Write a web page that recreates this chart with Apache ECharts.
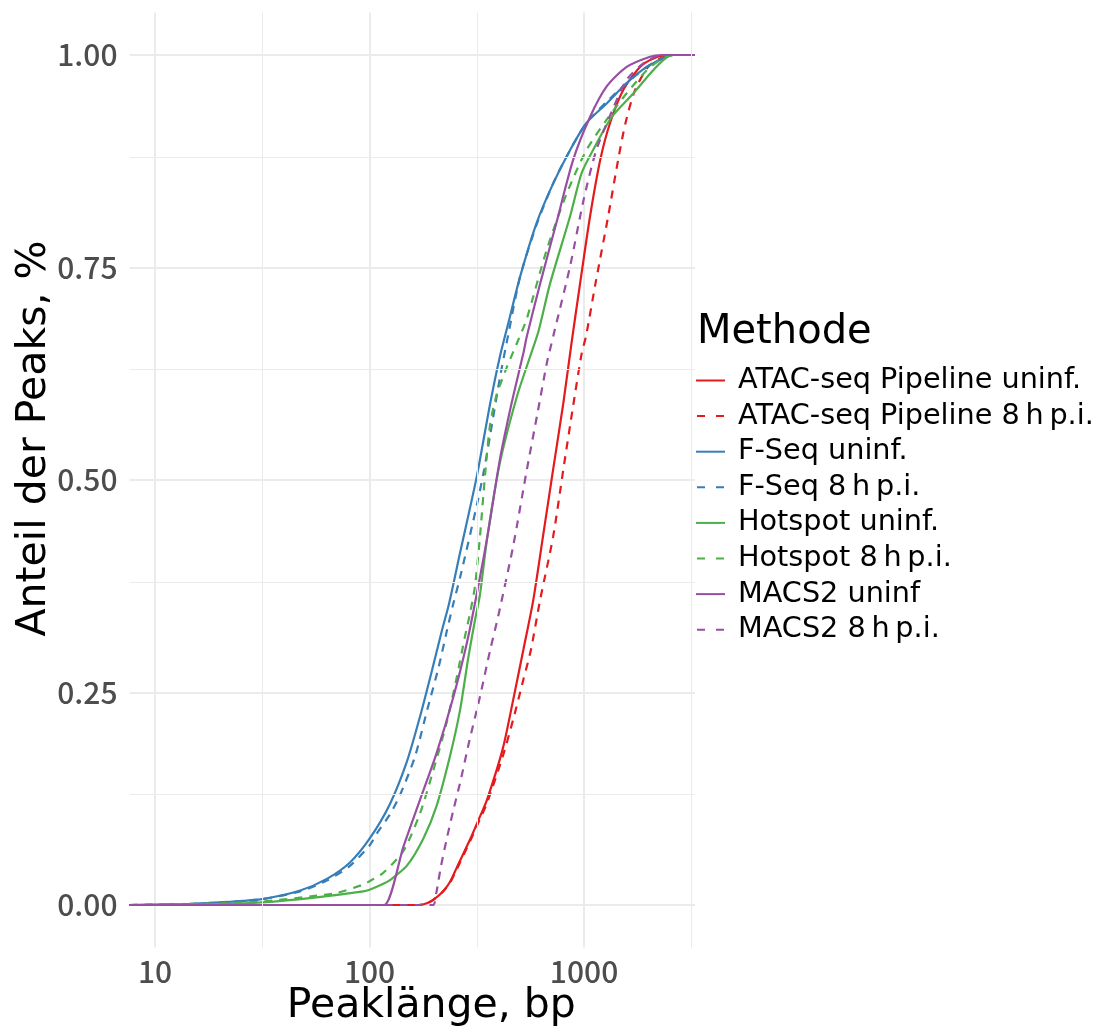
<!DOCTYPE html>
<html>
<head>
<meta charset="utf-8">
<script src="https://cdn.jsdelivr.net/npm/echarts@6/dist/echarts.min.js"></script>
<style>
  html, body { margin: 0; padding: 0; background: #ffffff; }
  #chart { width: 1096px; height: 1028px; }
</style>
</head>
<body>
<div id="chart"></div>
<script>
// Empirical cumulative distribution of peak lengths per calling method.
// Each entry: [peak length in bp, cumulative fraction of peaks].
const atacUninf = [[170,0],[185,0.002],[198,0.006],[220,0.016],[237,0.027],[255,0.044],[294,0.077],[327,0.104],[353,0.124],[418,0.184],[467,0.241],[521,0.300],[580,0.359],[643,0.433],[717,0.512],[800,0.590],[875,0.662],[958,0.731],[1066,0.810],[1188,0.876],[1322,0.920],[1525,0.959],[1824,0.986],[2110,0.996],[2500,1]];
const atacInf8h = [[170,0],[185,0.002],[198,0.006],[220,0.016],[237,0.026],[255,0.042],[294,0.075],[327,0.101],[353,0.120],[418,0.175],[467,0.218],[521,0.265],[565,0.300],[624,0.359],[717,0.433],[800,0.512],[888,0.586],[975,0.649],[1021,0.669],[1130,0.731],[1295,0.810],[1440,0.876],[1560,0.920],[1730,0.959],[1990,0.986],[2260,0.996],[2600,1]];
const fseqUninf = [[10,0.0005],[15,0.0015],[20,0.003],[31.6,0.007],[47.5,0.017],[63.5,0.031],[81,0.050],[100,0.078],[124,0.118],[149,0.168],[172,0.222],[195,0.275],[217,0.322],[235,0.355],[264,0.414],[316,0.504],[365,0.590],[405,0.645],[444,0.685],[503,0.739],[600,0.802],[718,0.849],[860,0.888],[1025,0.920],[1275,0.943],[1580,0.967],[1960,0.986],[2420,0.998],[2600,1]];
const fseqInf8h = [[10,0.0005],[15,0.0015],[20,0.003],[31.6,0.007],[47.5,0.016],[63.5,0.029],[81,0.046],[100,0.070],[108,0.084],[124,0.106],[139,0.130],[163,0.175],[185,0.228],[210,0.280],[229,0.322],[246,0.355],[264,0.385],[316,0.470],[342,0.512],[365,0.553],[405,0.620],[444,0.672],[503,0.739],[600,0.800],[718,0.849],[860,0.888],[1025,0.920],[1275,0.945],[1580,0.967],[1960,0.986],[2420,0.998],[2600,1]];
const hotspotUninf = [[10,0.0003],[20,0.001],[31.6,0.003],[56.6,0.009],[93.5,0.016],[100,0.018],[116,0.025],[124,0.029],[149,0.046],[178,0.078],[205,0.116],[237,0.175],[264,0.229],[289,0.292],[310,0.335],[327,0.365],[354,0.433],[405,0.520],[486,0.598],[560,0.645],[613,0.675],[694,0.731],[860,0.810],[974,0.861],[1100,0.888],[1345,0.927],[1700,0.955],[2031,0.978],[2340,0.994],[2600,1]];
const hotspotInf8h = [[10,0.0005],[20,0.002],[31.6,0.004],[56.6,0.011],[70,0.014],[93.5,0.024],[100,0.028],[116,0.038],[144,0.064],[172,0.108],[198,0.158],[229,0.215],[255,0.268],[278,0.315],[295,0.345],[310,0.375],[327,0.433],[345,0.504],[365,0.566],[391,0.600],[437,0.633],[494,0.665],[541,0.690],[670,0.771],[830,0.837],[1025,0.888],[1275,0.924],[1580,0.955],[1960,0.982],[2260,0.994],[2600,1]];
const macsUninf = [[100,0],[117,0],[144,0.069],[172,0.124],[205,0.178],[246,0.245],[284,0.308],[310,0.355],[354,0.433],[405,0.524],[459,0.590],[521,0.649],[541,0.669],[624,0.731],[742,0.802],[888,0.876],[1066,0.927],[1275,0.963],[1580,0.986],[2031,0.998],[2300,1]];
const macsInf8h = [[180,0],[198,0],[205,0.015],[215,0.045],[230,0.080],[246,0.112],[265,0.145],[290,0.190],[327,0.245],[365,0.300],[398,0.340],[467,0.422],[541,0.512],[606,0.578],[670,0.637],[718,0.669],[860,0.751],[994,0.829],[1140,0.888],[1375,0.939],[1580,0.971],[1890,0.990],[2300,1]];

const seriesNames = [
  'ATAC-seq Pipeline uninf.', 'ATAC-seq Pipeline 8\u2009h\u2009p.i.',
  'F-Seq uninf.', 'F-Seq 8\u2009h\u2009p.i.',
  'Hotspot uninf.', 'Hotspot 8\u2009h\u2009p.i.',
  'MACS2 uninf', 'MACS2 8\u2009h\u2009p.i.'
];
const seriesData = [atacUninf, atacInf8h, fseqUninf, fseqInf8h, hotspotUninf, hotspotInf8h, macsUninf, macsInf8h];
const seriesColors = ['#E41A1C', '#E41A1C', '#377EB8', '#377EB8', '#4DAF4A', '#4DAF4A', '#984EA3', '#984EA3'];
const seriesDashed = [false, true, false, true, false, true, false, true];

// Axis range and tick labels
const X_MIN = 7.6, X_MAX = 3290;
const Y_MIN = -0.05, Y_MAX = 1.05;
const xTicks = [10, 100, 1000];
const yTicks = [0, 0.25, 0.5, 0.75, 1];
const xMinorGrid = [31.62, 316.2, 3162];
const yMinorGrid = [0.125, 0.375, 0.625, 0.875];

// Legend keys: a solid stroke, or two dashes for the 8 h p.i. runs
const KEY_SOLID = 'path://M0,0H29V2H0Z';
const KEY_DASHED = 'path://M0,0H8V2H0Z M19,0H27V2H19Z';

const chart = echarts.init(document.getElementById('chart'), null, { renderer: 'canvas' });

// ECDF steps run from -Inf to +Inf, so every curve spans the full panel.
function padded(points) {
  return [[X_MIN, 0]].concat(points, [[X_MAX, 1]]);
}

const curveSeries = seriesNames.map((name, i) => ({
  name: name,
  type: 'line',
  data: padded(seriesData[i]),
  showSymbol: false,
  symbol: 'none',
  smooth: 0.25,
  z: 3,
  color: seriesColors[i],
  lineStyle: {
    color: seriesColors[i],
    width: 2.2,
    type: seriesDashed[i] ? [8, 7] : 'solid',
    cap: 'butt'
  },
  emphasis: { disabled: true }
}));

const minorGridSeries = {
  name: 'minor-grid',
  type: 'line',
  data: [],
  z: 1,
  silent: true,
  markLine: {
    silent: true,
    symbol: ['none', 'none'],
    animation: false,
    label: { show: false },
    lineStyle: { color: '#ebebeb', width: 1, type: 'solid' },
    emphasis: { disabled: true },
    data: xMinorGrid.map(v => ({ xAxis: v })).concat(yMinorGrid.map(v => ({ yAxis: v })))
  }
};

const labelFont = {
  fontFamily: 'Noto Sans CJK JP',
  fontSize: 30,
  fontWeight: 500,
  color: '#4d4d4d'
};

chart.setOption({
  animation: false,
  backgroundColor: '#ffffff',
  grid: { left: 129.5, top: 12.5, right: 401, bottom: 80.5, containLabel: false, outerBoundsMode: 'none' },
  xAxis: {
    type: 'log',
    logBase: 10,
    min: X_MIN,
    max: X_MAX,
    name: 'Peaklänge, bp',
    nameLocation: 'middle',
    nameGap: 38,
    nameMoveOverlap: false,
    nameTextStyle: { fontFamily: 'DejaVu Sans', fontSize: 41, color: '#000000', padding: [0, 0, 0, 38] },
    axisLine: { show: false },
    axisTick: { show: false, customValues: xTicks },
    axisLabel: Object.assign({ customValues: xTicks, margin: 9, formatter: v => String(v) }, labelFont),
    splitLine: { show: true, lineStyle: { color: '#ebebeb', width: 2 } }
  },
  yAxis: {
    type: 'value',
    min: Y_MIN,
    max: Y_MAX,
    name: 'Anteil der Peaks, %',
    nameLocation: 'middle',
    nameGap: 75,
    nameMoveOverlap: false,
    nameTextStyle: { fontFamily: 'DejaVu Sans', fontSize: 41, color: '#000000', padding: [0, 0, 0, 83] },
    axisLine: { show: false },
    axisTick: { show: false, customValues: yTicks },
    axisLabel: Object.assign({ customValues: yTicks, margin: 12, formatter: v => v.toFixed(2) }, labelFont),
    splitLine: { show: true, lineStyle: { color: '#ebebeb', width: 2 } }
  },
  legend: {
    data: seriesNames.map((name, i) => ({ name: name, icon: seriesDashed[i] ? KEY_DASHED : KEY_SOLID })),
    orient: 'vertical',
    left: 696,
    top: 366,
    padding: 0,
    itemGap: 6.6,
    itemWidth: 29,
    itemHeight: 2,
    selectedMode: false,
    textStyle: { fontFamily: 'DejaVu Sans', fontSize: 28.7, color: '#000000', padding: [0, 0, 0, 8] }
  },
  graphic: [{
    type: 'text',
    left: 697,
    top: 313,
    style: { text: 'Methode', fontFamily: 'DejaVu Sans', fontSize: 40, fill: '#000000' }
  }],
  series: [minorGridSeries].concat(curveSeries)
});
</script>
</body>
</html>
